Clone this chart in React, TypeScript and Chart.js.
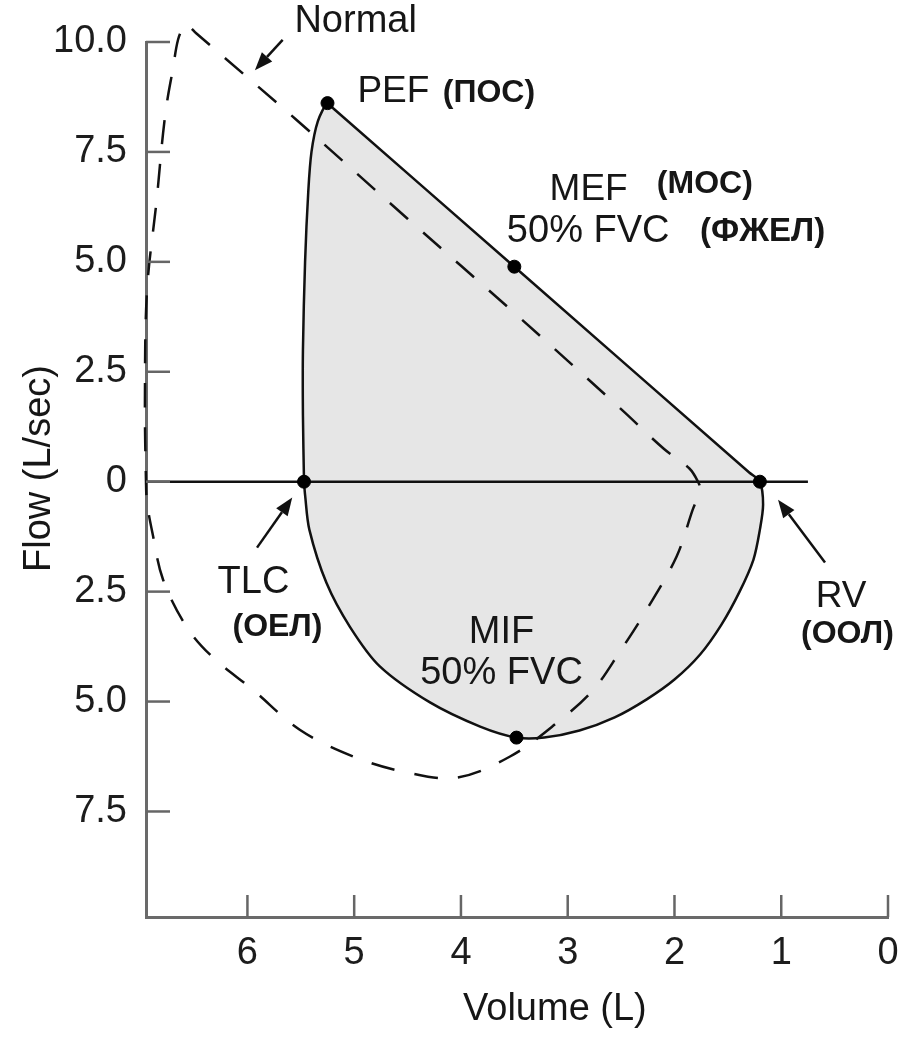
import { useEffect, useRef } from 'react';
import { Chart, registerables } from 'chart.js';

Chart.register(...registerables);

// ---- data (volume in L, flow in L/sec; inspiration negative) ----
const volumeTicks = [0, 1, 2, 3, 4, 5, 6];
const flowTicks = [-7.5, -5, -2.5, 0, 2.5, 5, 7.5, 10];

const patientVolume = [
  5.47, 5.48, 5.48, 5.46, 5.43, 5.4, 5.34, 5.25,
  5.2, 3.5, 1.3, 1.2,
  1.17, 1.2, 1.26, 1.39, 1.56, 1.76, 2.0, 2.26, 2.56, 2.89, 3.22, 3.48, 3.82, 4.29, 4.76, 5.04, 5.26, 5.42, 5.46, 5.47,
];
const patientFlow = [
  0, 1.5, 3.0, 5.0, 6.6, 7.5, 8.2, 8.61,
  8.5, 4.89, 0.21, 0,
  -0.52, -1.09, -1.77, -2.5, -3.25, -3.93, -4.5, -4.95, -5.36, -5.66, -5.82, -5.82, -5.57, -5.02, -4.2, -3.3, -2.3, -1.09, -0.3, 0,
];

const normalVolume = [
  6.52, 6.48, 5.55, 4.5, 3.5, 2.5, 2.1, 1.86, 1.78,
  1.76, 1.83, 1.98, 2.26, 2.51, 2.76, 3.1, 3.54, 4.04, 4.51, 5.01, 5.51, 5.95, 6.33, 6.57, 6.79, 6.89, 6.94, 6.95,
  6.96, 6.94, 6.85, 6.79, 6.75, 6.7, 6.65, 6.6, 6.52,
];
const normalFlow = [
  10.3, 10.2, 8.25, 5.98, 3.84, 1.65, 0.75, 0.3, 0.0,
  -0.18, -0.64, -1.7, -2.91, -3.86, -4.73, -5.48, -6.25, -6.73, -6.61, -6.25, -5.64, -4.73, -3.98, -3.3, -2.23, -1.16, -0.48, 0,
  1.86, 4.36, 6.41, 7.93, 8.68, 9.36, 10.05, 10.3, 10.3,
];

const keyPointNames = ['TLC', 'PEF', 'MEF', 'RV', 'MIF'];
const keyPointVolume = [5.47, 5.25, 3.5, 1.2, 3.48];
const keyPointFlow = [0, 8.61, 4.89, 0, -5.82];

const zeroLineVolume = [6.95, 0.75];
const zeroLineFlow = [0, 0];

// ---- annotations (anchored in data coordinates) ----
const FONT = '"Liberation Sans", Arial, Helvetica, sans-serif';
type Note = { text: string; v: number; f: number; bold?: boolean; size: number; align: CanvasTextAlign };
const notes: Note[] = [
  { text: 'Normal', v: 5.56, f: 10.23, size: 38, align: 'left' },
  { text: 'PEF', v: 4.97, f: 8.64, size: 37, align: 'left' },
  { text: '(ПОС)', v: 4.17, f: 8.64, size: 32, bold: true, align: 'left' },
  { text: 'MEF', v: 3.17, f: 6.41, size: 37, align: 'left' },
  { text: '(МОС)', v: 2.165, f: 6.57, size: 32, bold: true, align: 'left' },
  { text: '50% FVC', v: 3.57, f: 5.45, size: 38, align: 'left' },
  { text: '(ФЖЕЛ)', v: 1.76, f: 5.48, size: 33, bold: true, align: 'left' },
  { text: 'TLC', v: 6.28, f: -2.52, size: 38, align: 'left' },
  { text: '(ОЕЛ)', v: 6.14, f: -3.52, size: 32, bold: true, align: 'left' },
  { text: 'MIF', v: 3.62, f: -3.66, size: 38, align: 'center' },
  { text: '50% FVC', v: 3.62, f: -4.61, size: 38, align: 'center' },
  { text: 'RV', v: 0.44, f: -2.84, size: 37, align: 'center' },
  { text: '(ООЛ)', v: 0.38, f: -3.66, size: 32, bold: true, align: 'center' },
];
const arrows = [
  { from: [5.67, 10.05], to: [5.93, 9.36] },
  { from: [5.91, -1.5], to: [5.58, -0.36] },
  { from: [0.59, -1.84], to: [1.03, -0.41] },
];

const toPoints = (xs: number[], ys: number[]) => xs.map((x, i) => ({ x, y: ys[i] }));

const overlayPlugin = {
  id: 'overlay',
  afterDatasetsDraw(chart: any) {
    const { ctx, chartArea, scales } = chart;
    const xs = scales.x;
    const ys = scales.y;
    ctx.save();
    // inward tick marks
    ctx.strokeStyle = '#666';
    ctx.lineWidth = 2.5;
    flowTicks.forEach((t) => {
      const y = ys.getPixelForValue(t);
      ctx.beginPath();
      ctx.moveTo(chartArea.left, y);
      ctx.lineTo(chartArea.left + 24, y);
      ctx.stroke();
    });
    volumeTicks.forEach((t) => {
      const x = xs.getPixelForValue(t);
      ctx.beginPath();
      ctx.moveTo(x, chartArea.bottom);
      ctx.lineTo(x, chartArea.bottom - 22);
      ctx.stroke();
    });
    // arrows
    ctx.strokeStyle = '#111';
    ctx.fillStyle = '#111';
    ctx.lineWidth = 2.5;
    arrows.forEach((a) => {
      const x1 = xs.getPixelForValue(a.from[0]);
      const y1 = ys.getPixelForValue(a.from[1]);
      const x2 = xs.getPixelForValue(a.to[0]);
      const y2 = ys.getPixelForValue(a.to[1]);
      const ang = Math.atan2(y2 - y1, x2 - x1);
      const hl = 18;
      const hw = 7;
      const bx = x2 - hl * Math.cos(ang);
      const by = y2 - hl * Math.sin(ang);
      ctx.beginPath();
      ctx.moveTo(x1, y1);
      ctx.lineTo(bx, by);
      ctx.stroke();
      ctx.beginPath();
      ctx.moveTo(x2, y2);
      ctx.lineTo(bx + hw * Math.sin(ang), by - hw * Math.cos(ang));
      ctx.lineTo(bx - hw * Math.sin(ang), by + hw * Math.cos(ang));
      ctx.closePath();
      ctx.fill();
    });
    // text notes
    ctx.fillStyle = '#161616';
    ctx.textBaseline = 'alphabetic';
    notes.forEach((n) => {
      ctx.font = `${n.bold ? 'bold ' : ''}${n.size}px ${FONT}`;
      ctx.textAlign = n.align;
      ctx.fillText(n.text, xs.getPixelForValue(n.v), ys.getPixelForValue(n.f));
    });
    // axis titles
    ctx.font = `38px ${FONT}`;
    ctx.textAlign = 'center';
    ctx.fillText('Volume (L)', xs.getPixelForValue(3.12), chartArea.bottom + 103);
    ctx.save();
    ctx.translate(50, ys.getPixelForValue(0.3));
    ctx.rotate(-Math.PI / 2);
    ctx.fillText('Flow (L/sec)', 0, 0);
    ctx.restore();
    ctx.restore();
  },
};

export default function App() {
  const ref = useRef<HTMLCanvasElement | null>(null);
  useEffect(() => {
    if (!ref.current) return;
    const chart = new Chart(ref.current, {
      type: 'scatter',
      data: {
        datasets: [
          {
            label: 'Key points',
            data: toPoints(keyPointVolume, keyPointFlow),
            showLine: false,
            pointRadius: 6.5,
            pointBackgroundColor: '#000',
            pointBorderColor: '#000',
            clip: false,
          } as any,
          {
            label: 'Zero',
            data: toPoints(zeroLineVolume, zeroLineFlow),
            showLine: true,
            borderColor: '#111',
            borderWidth: 2.5,
            pointRadius: 0,
          },
          {
            label: 'Normal',
            data: toPoints(normalVolume, normalFlow),
            showLine: true,
            borderColor: '#111',
            borderWidth: 2.5,
            borderDash: [24, 20],
            pointRadius: 0,
            tension: 0.35,
            clip: false,
          } as any,
          {
            label: 'Patient',
            data: toPoints(patientVolume, patientFlow),
            showLine: true,
            borderColor: '#111',
            borderWidth: 2.5,
            backgroundColor: '#e6e6e6',
            fill: 'shape',
            pointRadius: 0,
            tension: 0.3,
            clip: false,
          } as any,
        ],
      },
      options: {
        responsive: false,
        animation: false,
        devicePixelRatio: 1,
        layout: { padding: { left: 0, top: 42, right: 34, bottom: 0 } },
        elements: { line: { capBezierPoints: false } },
        plugins: { legend: { display: false }, tooltip: { enabled: false } },
        scales: {
          x: {
            type: 'linear',
            reverse: true,
            min: 0,
            max: 6.95,
            afterBuildTicks: (s: any) => {
              s.ticks = volumeTicks.map((v) => ({ value: v }));
            },
            afterFit: (s: any) => {
              s.height = 120;
            },
            grid: { display: false, drawTicks: false },
            border: { display: true, color: '#6a6a6a', width: 3 },
            ticks: {
              padding: 14,
              color: '#1c1c1c',
              font: { family: FONT, size: 38 },
              maxRotation: 0,
              callback: (v: any) => String(v),
            },
          },
          y: {
            type: 'linear',
            min: -9.9,
            max: 10,
            afterBuildTicks: (s: any) => {
              s.ticks = flowTicks.map((v) => ({ value: v }));
            },
            afterFit: (s: any) => {
              s.width = 146;
            },
            grid: { display: false, drawTicks: false },
            border: { display: true, color: '#6a6a6a', width: 3 },
            ticks: {
              padding: 19,
              color: '#1c1c1c',
              font: { family: FONT, size: 38 },
              callback: (v: any) => (Number(v) === 0 ? '0' : Math.abs(Number(v)).toFixed(1)),
            },
          },
        },
      },
      plugins: [overlayPlugin],
    });
    return () => chart.destroy();
  }, []);
  return (
    <div style={{ position: 'fixed', left: 0, top: 0, width: 922, height: 1037, background: '#fff' }}>
      <canvas ref={ref} width={922} height={1037} style={{ width: 922, height: 1037, display: 'block' }} />
    </div>
  );
}
